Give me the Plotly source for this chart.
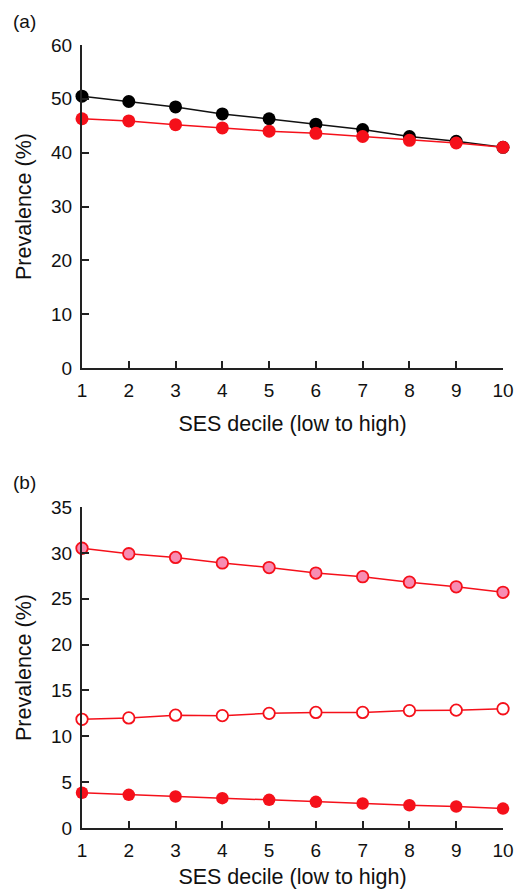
import plotly.graph_objects as go

deciles = [1, 2, 3, 4, 5, 6, 7, 8, 9, 10]
tick_labels = ["1", "2", "3", "4", "5", "6", "7", "8", "9", "10"]

# Panel (a)
a_black = [50.5, 49.5, 48.5, 47.2, 46.3, 45.3, 44.3, 43.0, 42.1, 41.0]
a_red = [46.3, 45.9, 45.2, 44.6, 44.0, 43.6, 43.0, 42.3, 41.8, 41.0]

# Panel (b)
b_pink = [30.5, 29.9, 29.5, 28.9, 28.4, 27.8, 27.4, 26.8, 26.3, 25.7]
b_open = [11.85, 12.0, 12.3, 12.25, 12.5, 12.6, 12.6, 12.8, 12.85, 13.0]
b_solid = [3.84, 3.62, 3.43, 3.25, 3.07, 2.85, 2.67, 2.48, 2.34, 2.12]

RED = "#f5101a"
FONT = "Liberation Sans, Arial, Helvetica, sans-serif"
TXT = "#111111"

W, H = 515, 889
l, r, t, b = 82, 12, 45, 61

fig = go.Figure()

def add(x, y, xa, ya, line_color, fill, outline, size=13, lw=1.5, mlw=0):
    fig.add_trace(go.Scatter(
        x=x, y=y, xaxis=xa, yaxis=ya, mode="lines+markers",
        line=dict(color=line_color, width=lw),
        marker=dict(size=size, color=fill, line=dict(color=outline, width=mlw)),
        cliponaxis=False, showlegend=False, hoverinfo="x+y"))

add(deciles, a_black, "x", "y", "#111111", "#000000", "#000000", size=13)
add(deciles, a_red, "x", "y", RED, RED, RED, size=13)
add(deciles, b_pink, "x2", "y2", RED, "#f78db3", RED, size=11.5, mlw=1.8)
add(deciles, b_open, "x2", "y2", RED, "#ffffff", RED, size=11.5, mlw=1.8)
add(deciles, b_solid, "x2", "y2", RED, RED, RED, size=12.5)

axis_common = dict(
    showline=True, linecolor="#222222", linewidth=2,
    ticks="inside", ticklen=7, tickwidth=2, tickcolor="#222222",
    showgrid=False, zeroline=False, automargin=False,
    tickfont=dict(family=FONT, size=19, color=TXT),
    ticklabelstandoff=4,
)

xcommon = dict(axis_common, range=[1, 10], tickmode="array",
               tickvals=deciles, ticktext=tick_labels,
               title=dict(text="SES decile (low to high)",
                          font=dict(family=FONT, size=21.5, color=TXT),
                          standoff=16))

ytitle = dict(text="Prevalence (%)",
              font=dict(family=FONT, size=21.5, color=TXT),
              standoff=14)

# panel plot areas (page px): (a) 45..368, (b) 507..828
ph = H - t - b
dom_a = [(H - b - 368) / ph, 1.0]
dom_b = [0.0, (H - b - 507) / ph]

fig.update_layout(
    width=W, height=H, autosize=False,
    margin=dict(l=l, r=r, t=t, b=b, autoexpand=False),
    paper_bgcolor="white", plot_bgcolor="white",
    xaxis=dict(xcommon, anchor="y"),
    yaxis=dict(axis_common, domain=dom_a, range=[0, 60],
               tickmode="array", tickvals=[0, 10, 20, 30, 40, 50, 60],
               title=ytitle, anchor="x"),
    xaxis2=dict(xcommon, anchor="y2"),
    yaxis2=dict(axis_common, domain=dom_b, range=[0, 35],
                tickmode="array", tickvals=[0, 5, 10, 15, 20, 25, 30, 35],
                title=ytitle, anchor="x2"),
)

pw = W - l - r
def px_to_paper(px, py):
    return (px - l) / pw, (H - b - py) / ph

for label, (px, py) in [("(a)", (24, 22)), ("(b)", (24, 482))]:
    x, y = px_to_paper(px, py)
    fig.add_annotation(text=label, x=x, y=y, xref="paper", yref="paper",
                       xanchor="center", yanchor="middle", showarrow=False,
                       font=dict(family=FONT, size=19, color=TXT))

fig.write_html(
    "out.html",
    config={"displayModeBar": False},
    post_script=(
        "document.body.style.margin='0px';"
        "document.body.style.overflow='hidden';"
        "document.documentElement.style.overflow='hidden';"
    ),
)
